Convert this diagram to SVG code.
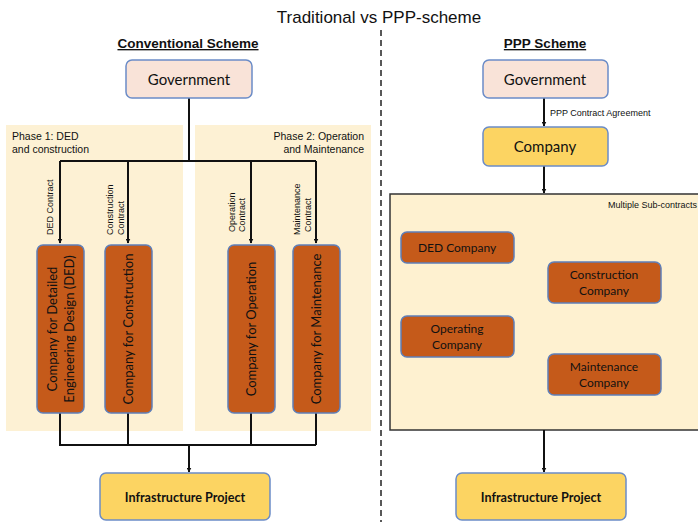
<svg xmlns="http://www.w3.org/2000/svg" width="698" height="522" viewBox="0 0 698 522">
<defs>
<marker id="ah" viewBox="0 0 10 10" refX="9" refY="5" markerWidth="5" markerHeight="5" orient="auto" markerUnits="userSpaceOnUse">
<path d="M0,0 L10,5 L0,10 z" fill="#111"/>
</marker>
<style>
.t{font-family:"Liberation Sans",Arial,sans-serif;fill:#111}
.c{font-family:Lato,"Open Sans",sans-serif;fill:#111}
.gov{fill:#f9e3d8;stroke:#6b8cc7;stroke-width:1.5}
.yel{fill:#fcd462;stroke:#6b8cc7;stroke-width:1.5}
.org{fill:#c55a1a;stroke:#5f7fb8;stroke-width:1.5}
.ph{fill:#fdf1d4}
.ln{fill:none;stroke:#111;stroke-width:2}
</style>
</defs>
<rect width="698" height="522" fill="#fff"/>
<text class="t" x="379" y="23" font-size="17" text-anchor="middle">Traditional vs PPP-scheme</text>
<line x1="381" y1="30" x2="381" y2="522" stroke="#222" stroke-width="1.5" stroke-dasharray="6,4"/>

<text class="t" x="188" y="48" font-size="13.5" font-weight="bold" text-anchor="middle" text-decoration="underline">Conventional Scheme</text>
<text class="t" x="545" y="48" font-size="13.5" font-weight="bold" text-anchor="middle" text-decoration="underline">PPP Scheme</text>

<g id="phase1"><rect class="ph" x="6" y="125" width="177" height="306"/>
<text class="t" x="12" y="140" font-size="10.5">Phase 1: DED</text>
<text class="t" x="12" y="153" font-size="10.5">and construction</text></g>
<g id="phase2"><rect class="ph" x="195" y="125" width="176" height="306"/>
<text class="t" x="364" y="140" font-size="10.5" text-anchor="end">Phase 2: Operation</text>
<text class="t" x="364" y="153" font-size="10.5" text-anchor="end">and Maintenance</text></g>
<g id="subcontracts"><rect x="390" y="194" width="312" height="236" fill="#fef1d0" stroke="#333" stroke-width="1.5"/>
<text class="t" x="697" y="208" font-size="9" text-anchor="end">Multiple Sub-contracts</text></g>

<g id="connectors">
<path class="ln" d="M189,98 V161 M60,161 H316"/>
<path class="ln" d="M60,161 V243" marker-end="url(#ah)"/>
<path class="ln" d="M128,161 V243" marker-end="url(#ah)"/>
<path class="ln" d="M251,161 V243" marker-end="url(#ah)"/>
<path class="ln" d="M316,161 V243" marker-end="url(#ah)"/>
<path class="ln" d="M60,413 V445 H316 M128,413 V445 M251,413 V445 M316,413 V445"/>
<path class="ln" d="M189,445 V472" marker-end="url(#ah)"/>
<path class="ln" d="M544,98 V126" marker-end="url(#ah)"/>
<path class="ln" d="M544,166 V193" marker-end="url(#ah)"/>
<path class="ln" d="M544,430 V472" marker-end="url(#ah)"/>
<text class="t" font-size="9" transform="translate(53,235) rotate(-90)">DED Contract</text>
<text class="t" font-size="9" transform="translate(113,235) rotate(-90)">Construction</text>
<text class="t" font-size="9" transform="translate(124,235) rotate(-90)">Contract</text>
<text class="t" font-size="9" transform="translate(235,232) rotate(-90)">Operation</text>
<text class="t" font-size="9" transform="translate(245,232) rotate(-90)">Contract</text>
<text class="t" font-size="9" transform="translate(300,235) rotate(-90)">Maintenance</text>
<text class="t" font-size="9" transform="translate(311,232) rotate(-90)">Contract</text>
<text class="t" x="550" y="116" font-size="9">PPP Contract Agreement</text>
</g>

<g id="gov-left"><rect class="gov" x="126" y="60" width="126" height="38" rx="6"/>
<text class="c" x="189" y="85" font-size="15" text-anchor="middle">Government</text></g>

<g id="ded"><rect class="org" x="37" y="245" width="47" height="168" rx="6"/>
<text class="c" font-size="13" text-anchor="middle" transform="translate(57,329) rotate(-90)">Company for Detailed</text>
<text class="c" font-size="13" text-anchor="middle" transform="translate(74,329) rotate(-90)">Engineering Design (DED)</text></g>
<g id="construction"><rect class="org" x="105" y="245" width="47" height="168" rx="6"/>
<text class="c" font-size="13" text-anchor="middle" transform="translate(133,329) rotate(-90)">Company for Construction</text></g>
<g id="operation"><rect class="org" x="228" y="245" width="47" height="168" rx="6"/>
<text class="c" font-size="13" text-anchor="middle" transform="translate(256,329) rotate(-90)">Company for Operation</text></g>
<g id="maintenance"><rect class="org" x="293" y="245" width="47" height="168" rx="6"/>
<text class="c" font-size="13" text-anchor="middle" transform="translate(321,329) rotate(-90)">Company for Maintenance</text></g>

<g id="infra-left"><rect class="yel" x="100" y="473" width="170" height="47" rx="6"/>
<text class="c" x="185" y="502" font-size="12.6" font-weight="bold" text-anchor="middle">Infrastructure Project</text></g>

<g id="gov-right"><rect class="gov" x="483" y="60" width="125" height="38" rx="6"/>
<text class="c" x="545" y="85" font-size="15" text-anchor="middle">Government</text></g>
<g id="company"><rect class="yel" x="483" y="127" width="125" height="39" rx="6"/>
<text class="c" x="545" y="152" font-size="15" text-anchor="middle">Company</text></g>

<g id="ded-co"><rect class="org" x="401" y="232" width="113" height="31" rx="6"/>
<text class="c" x="457" y="252" font-size="12" text-anchor="middle">DED Company</text></g>
<g id="construction-co"><rect class="org" x="548" y="262" width="113" height="41" rx="6"/>
<text class="c" x="604" y="279" font-size="12" text-anchor="middle">Construction</text>
<text class="c" x="604" y="295" font-size="12" text-anchor="middle">Company</text></g>
<g id="operating-co"><rect class="org" x="401" y="316" width="113" height="41" rx="6"/>
<text class="c" x="457" y="333" font-size="12" text-anchor="middle">Operating</text>
<text class="c" x="457" y="349" font-size="12" text-anchor="middle">Company</text></g>
<g id="maintenance-co"><rect class="org" x="548" y="354" width="113" height="41" rx="6"/>
<text class="c" x="604" y="371" font-size="12" text-anchor="middle">Maintenance</text>
<text class="c" x="604" y="387" font-size="12" text-anchor="middle">Company</text></g>

<g id="infra-right"><rect class="yel" x="456" y="473" width="170" height="47" rx="6"/>
<text class="c" x="541" y="502" font-size="12.6" font-weight="bold" text-anchor="middle">Infrastructure Project</text></g>
</svg>
